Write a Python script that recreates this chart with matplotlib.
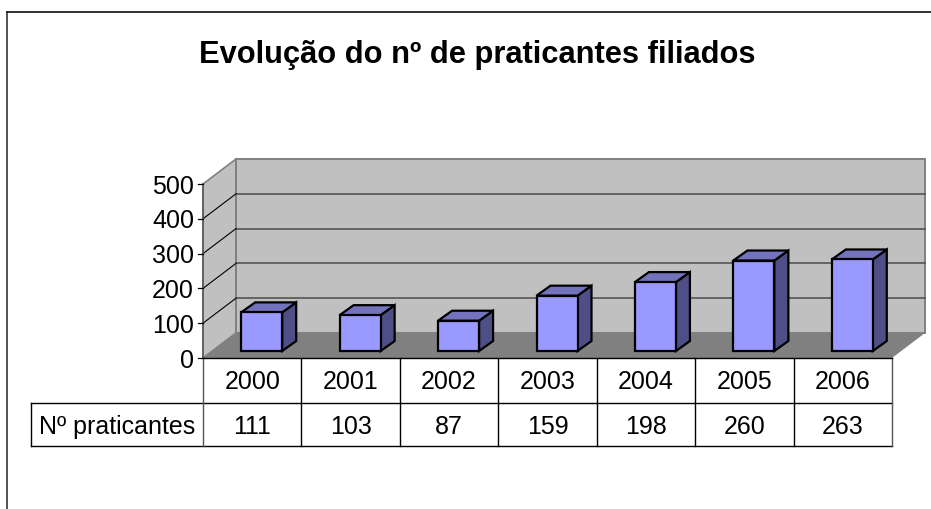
import matplotlib
matplotlib.use('Agg')
import matplotlib.pyplot as plt
from matplotlib.patches import Polygon

plt.rcParams['font.family'] = ['Liberation Sans', 'DejaVu Sans']

years = ['2000', '2001', '2002', '2003', '2004', '2005', '2006']
praticantes = [111, 103, 87, 159, 198, 260, 263]
y_ticks = [0, 100, 200, 300, 400, 500]
titulo = 'Evolução do nº de praticantes filiados'
nome_serie = 'Nº praticantes'

W, H = 931, 509
fig = plt.figure(figsize=(W / 100, H / 100), dpi=100, facecolor='white')

# eixo principal colocado em pixels da imagem
x0, x1, y0, y1 = 203, 892, 358, 184
ax = fig.add_axes([x0 / W, 1 - y0 / H, (x1 - x0) / W, (y0 - y1) / H])
ax.set_xlim(0, len(years))
ax.set_ylim(0, 500)
ax.axis('off')

px = (x1 - x0) / len(years)  # pixels por categoria
py = (y0 - y1) / 500  # pixels por unidade


def dx(p):
    return p / px


def dy(p):
    return p / py


def poly(pts, fc, ec='none', lw=0, z=1):
    ax.add_patch(Polygon(pts, closed=True, facecolor=fc, edgecolor=ec, linewidth=lw,
                         zorder=z, clip_on=False, joinstyle='miter'))


n = len(years)
dep_x, dep_y = dx(33), dy(25)

# paredes e chao
poly([(0, 0), (dep_x, dep_y), (dep_x, 500 + dep_y), (0, 500)], '#c0c0c0', '#808080', 1.2)
poly([(dep_x, dep_y), (n + dep_x, dep_y), (n + dep_x, 500 + dep_y), (dep_x, 500 + dep_y)],
     '#c0c0c0', '#808080', 1.4)
poly([(0, 0), (n, 0), (n + dep_x, dep_y), (dep_x, dep_y)], '#808080', z=2)

# grelha
for t in y_ticks[1:-1]:
    ax.plot([0, dep_x], [t, t + dep_y], color='black', lw=0.8, zorder=3, clip_on=False)
    ax.plot([dep_x, n + dep_x], [t + dep_y, t + dep_y], color='#555555', lw=1.2, zorder=1.5,
            clip_on=False)

# barras
bw = dx(41)
off_x, off_y = dx(9.5), dy(7)
bar_dx, bar_dy = dx(14), dy(10)
xs = [i + 0.5 + off_x for i in range(n)]
for i, (c, v) in enumerate(zip(xs, praticantes)):
    z = 5 + i
    l, r = c - bw / 2, c + bw / 2
    top = off_y + v
    poly([(r, off_y), (r + bar_dx, off_y + bar_dy), (r + bar_dx, top + bar_dy), (r, top)],
         '#4f4f88', 'black', 1.6, z)
    poly([(l, top), (r, top), (r + bar_dx, top + bar_dy), (l + bar_dx, top + bar_dy)],
         '#7272bd', 'black', 1.6, z)
    ax.bar(c, v, width=bw, bottom=off_y, color='#9999ff', edgecolor='black', linewidth=1.6,
           zorder=z + 0.5, clip_on=False)

# eixo y
ax.plot([0, 0], [0, 500], color='#555555', lw=1.1, zorder=4, clip_on=False)
for t in y_ticks:
    ax.plot([-dx(5), 0], [t, t], color='black', lw=0.9, zorder=4, clip_on=False)
    ax.text(-dx(9), t, str(t), ha='right', va='center_baseline', fontsize=18, color='black')

# tabela de dados
row1, row2 = -dy(45), -dy(88)
left = -dx(172)
ax.plot([0, n], [0, 0], color='black', lw=1.0, zorder=4, clip_on=False)
ax.plot([left, n], [row1, row1], color='black', lw=1.0, clip_on=False)
ax.plot([left, n], [row2, row2], color='black', lw=1.0, clip_on=False)
ax.plot([left, left], [row1, row2], color='black', lw=1.0, clip_on=False)
ax.plot([0, 0], [0, row2], color='#555555', lw=1.0, clip_on=False)
for i in range(1, n + 1):
    ax.plot([i, i], [0, row2], color='black' if i < n else '#555555', lw=1.0, clip_on=False)
for i in range(n):
    ax.text(i + 0.5, row1 / 2 + dy(1), years[i], ha='center', va='center_baseline', fontsize=18)
    ax.text(i + 0.5, (row1 + row2) / 2, str(praticantes[i]), ha='center', va='center_baseline',
            fontsize=18)
ax.text(-dx(8), (row1 + row2) / 2, nome_serie, ha='right', va='center_baseline', fontsize=18)

# titulo e moldura
fig.text(477.5 / W, 1 - 55 / H, titulo, ha='center', va='center', fontsize=22.2, fontweight='bold')
fig.add_artist(plt.Line2D([7.2 / W, 7.2 / W], [0, 1 - 11.5 / H], color='#222222', lw=1.1))
fig.add_artist(plt.Line2D([7.2 / W, 1], [1 - 11.5 / H, 1 - 11.5 / H], color='#222222', lw=1.3))

fig.savefig('out.png', dpi=100)
